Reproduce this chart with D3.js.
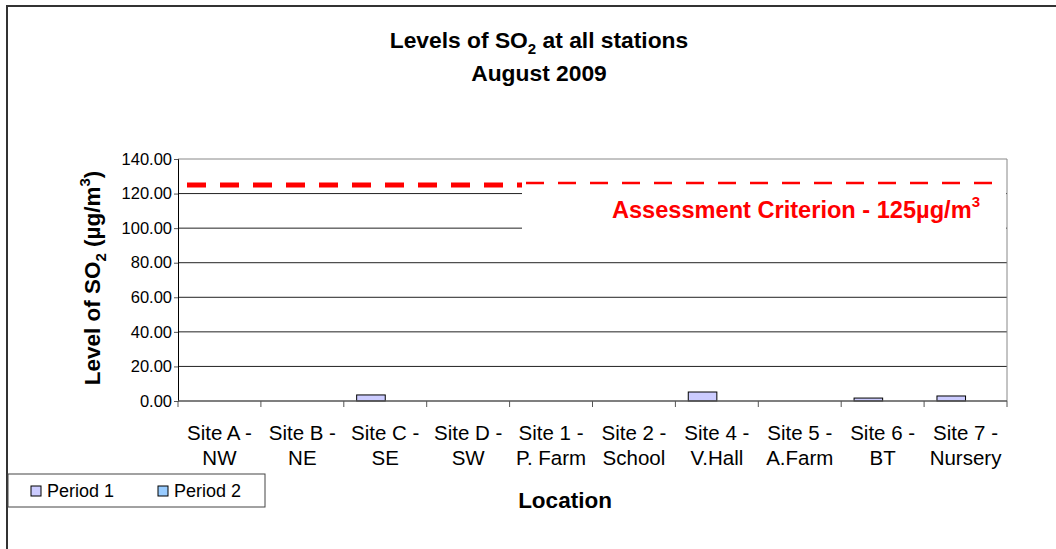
<!DOCTYPE html>
<html>
<head>
<meta charset="utf-8">
<script src="https://cdn.jsdelivr.net/npm/d3@7"></script>
<style>
  body { margin: 0; background: #fff; }
  svg { font-family: "Liberation Sans", Arial, sans-serif; }
</style>
</head>
<body>
<svg id="chart" width="1056" height="549"></svg>
<script>
// data
const sites = [
  ['Site A -', 'NW'], ['Site B -', 'NE'], ['Site C -', 'SE'], ['Site D -', 'SW'],
  ['Site 1 -', 'P. Farm'], ['Site 2 -', 'School'], ['Site 4 -', 'V.Hall'],
  ['Site 5 -', 'A.Farm'], ['Site 6 -', 'BT'], ['Site 7 -', 'Nursery']
]
const period1 = [0, 0, 3.5, 0, 0, 0, 5.2, 0, 1.7, 2.9]
const period2 = [0, 0, 0, 0, 0, 0, 0, 0, 0, 0]
const seriesNames = ['Period 1', 'Period 2']
const seriesColors = ['#ccccff', '#99ccff']
const yTicks = [0, 20, 40, 60, 80, 100, 120, 140]
const criterion = 125

const svg = d3.select('#chart')

// outer frame
svg.append('path')
  .attr('d', 'M7,549 V6 H1056')
  .attr('fill', 'none').attr('stroke', '#333').attr('stroke-width', 2)

const pLeft = 178, pRight = 1007, pTop = 159, pBottom = 401

const x = d3.scaleBand().domain(d3.range(sites.length)).range([pLeft, pRight])
const y = d3.scaleLinear().domain([0, 140]).range([pBottom, pTop])

// gridlines
svg.append('g').selectAll('line')
  .data(yTicks.filter(d => d > 0))
  .join('line')
  .attr('x1', pLeft).attr('x2', pRight)
  .attr('y1', d => y(d)).attr('y2', d => y(d))
  .attr('stroke', d => d === 140 ? '#888' : '#222').attr('stroke-width', 1)

// right border of plot
svg.append('line')
  .attr('x1', pRight).attr('x2', pRight).attr('y1', pTop).attr('y2', pBottom)
  .attr('stroke', '#888')

// y axis
const yAxis = svg.append('g')
  .attr('transform', `translate(${pLeft},0)`)
  .call(d3.axisLeft(y).tickValues(yTicks).tickSize(4).tickPadding(2).tickFormat(d3.format('.2f')))
yAxis.select('.domain').attr('stroke', '#000')
yAxis.selectAll('.tick line').attr('stroke', '#555')
yAxis.selectAll('text').attr('font-size', 16.5).attr('fill', '#000')
  .attr('font-family', '"Liberation Sans", Arial, sans-serif')

// bars
const sub = d3.scaleBand().domain([0, 1]).range([0, x.bandwidth()]).paddingOuter(0.45)
const series = [period1, period2]
series.forEach((vals, s) => {
  svg.append('g').selectAll('rect')
    .data(vals.map((v, i) => ({ v, i })).filter(d => d.v > 0))
    .join('rect')
    .attr('x', d => x(d.i) + sub(s))
    .attr('width', sub.bandwidth())
    .attr('y', d => y(d.v))
    .attr('height', d => y(0) - y(d.v))
    .attr('fill', seriesColors[s])
    .attr('stroke', '#000').attr('stroke-width', 1)
})

// x axis
svg.append('line')
  .attr('x1', pLeft).attr('x2', pRight).attr('y1', pBottom).attr('y2', pBottom)
  .attr('stroke', '#555').attr('stroke-width', 1.5)
svg.append('g').selectAll('line')
  .data(d3.range(sites.length + 1))
  .join('line')
  .attr('x1', i => pLeft + i * x.step()).attr('x2', i => pLeft + i * x.step())
  .attr('y1', pBottom).attr('y2', pBottom + 6)
  .attr('stroke', '#555')

const xl = svg.append('g').selectAll('text')
  .data(sites)
  .join('text')
  .attr('text-anchor', 'middle')
  .attr('font-size', 20.5)
xl.append('tspan').attr('x', (d, i) => x(i) + x.bandwidth() / 2).attr('y', 440).text(d => d[0])
xl.append('tspan').attr('x', (d, i) => x(i) + x.bandwidth() / 2).attr('y', 465).text(d => d[1])

// criterion line (thick part then thin part behind label box)
const cx = 522
svg.append('line')
  .attr('x1', 187).attr('x2', cx).attr('y1', y(criterion)).attr('y2', y(criterion))
  .attr('stroke', '#ff0000').attr('stroke-width', 5).attr('stroke-dasharray', '19 14')
svg.append('rect')
  .attr('x', cx).attr('y', y(criterion) + 3).attr('width', pRight - cx - 1).attr('height', 44)
  .attr('fill', '#fff')
svg.append('line')
  .attr('x1', cx).attr('x2', pRight - 2).attr('y1', y(criterion) - 2).attr('y2', y(criterion) - 2)
  .attr('stroke', '#ff0000').attr('stroke-width', 2.5).attr('stroke-dasharray', '18 14')
  .attr('stroke-dashoffset', -4)
const crit = svg.append('text')
  .attr('x', 980).attr('y', 218).attr('text-anchor', 'end')
  .attr('font-size', 23.6).attr('font-weight', 'bold').attr('fill', '#ff0000')
crit.append('tspan').text('Assessment Criterion - 125µg/m')
crit.append('tspan').attr('dy', -11).attr('font-size', 15).text('3')

// title
const t1 = svg.append('text').attr('x', 539).attr('y', 48)
  .attr('text-anchor', 'middle').attr('font-size', 22.8).attr('font-weight', 'bold')
t1.append('tspan').text('Levels of SO')
t1.append('tspan').attr('dy', 6).attr('font-size', 15).text('2')
t1.append('tspan').attr('dy', -6).text(' at all stations')
svg.append('text').attr('x', 539).attr('y', 81)
  .attr('text-anchor', 'middle').attr('font-size', 22.8).attr('font-weight', 'bold')
  .text('August 2009')

// y title
const yt = svg.append('text')
  .attr('transform', 'translate(100,278) rotate(-90)')
  .attr('text-anchor', 'middle').attr('font-size', 22.5).attr('font-weight', 'bold')
yt.append('tspan').text('Level of SO')
yt.append('tspan').attr('dy', 6).attr('font-size', 15).text('2')
yt.append('tspan').attr('dy', -6).text(' (µg/m')
yt.append('tspan').attr('dy', -10).attr('font-size', 15).text('3')
yt.append('tspan').attr('dy', 10).text(')')

// x title
svg.append('text').attr('x', 565).attr('y', 508)
  .attr('text-anchor', 'middle').attr('font-size', 22.5).attr('font-weight', 'bold')
  .text('Location')

// legend
svg.append('rect').attr('x', 8).attr('y', 474).attr('width', 257).attr('height', 33)
  .attr('fill', '#fff').attr('stroke', '#444').attr('stroke-width', 1)
const lg = svg.append('g').selectAll('g')
  .data(seriesNames)
  .join('g')
  .attr('transform', (d, i) => `translate(${31 + i * 127},486)`)
lg.append('rect').attr('width', 10).attr('height', 10)
  .attr('fill', (d, i) => seriesColors[i]).attr('stroke', '#000')
lg.append('text').attr('x', 16).attr('y', 11).attr('font-size', 18).text(d => d)
</script>
</body>
</html>
